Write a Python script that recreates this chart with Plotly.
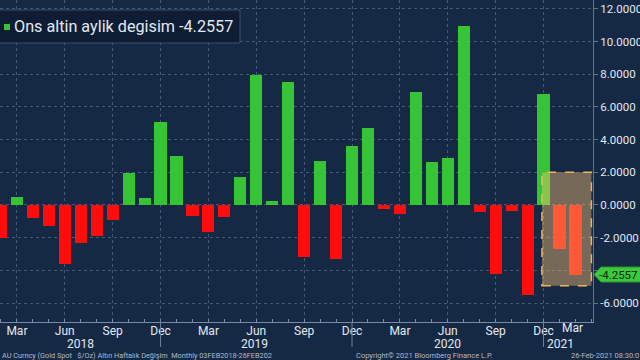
import plotly.graph_objects as go

# ---------------- data ----------------
months = ["Feb 2018", "Mar 2018", "Apr 2018", "May 2018", "Jun 2018", "Jul 2018",
          "Aug 2018", "Sep 2018", "Oct 2018", "Nov 2018", "Dec 2018",
          "Jan 2019", "Feb 2019", "Mar 2019", "Apr 2019", "May 2019", "Jun 2019",
          "Jul 2019", "Aug 2019", "Sep 2019", "Oct 2019", "Nov 2019", "Dec 2019",
          "Jan 2020", "Feb 2020", "Mar 2020", "Apr 2020", "May 2020", "Jun 2020",
          "Jul 2020", "Aug 2020", "Sep 2020", "Oct 2020", "Nov 2020", "Dec 2020",
          "Jan 2021", "Feb 2021"]
values = [-2.0, 0.5, -0.8, -1.3, -3.6, -2.3, -1.9, -0.9, 1.95, 0.45, 5.08,
          3.0, -0.65, -1.65, -0.75, 1.7, 7.98, 0.26, 7.52, -3.2, 2.7, -3.3, 3.6,
          4.7, -0.25, -0.57, 6.9, 2.6, 2.9, 10.95, -0.43, -4.2, -0.39, -5.48, 6.8,
          -2.7, -4.2557]
tick_months = ["Mar", "Jun", "Sep", "Dec"]
year_labels = ["2018", "2019", "2020", "2021"]
year_label_pos = [5.0, 15.9, 28.0, 35.05]
y_ticks = [-6, -4, -2, 0, 2, 4, 6, 8, 10, 12]
last_value = values[-1]
title_text = "Ons altin aylik degisim %.4f" % last_value
footer_left = "AU Curncy (Gold Spot   $/Oz) Altın Haftalık Değişim  Monthly 03FEB2018-26FEB202"
footer_mid = "Copyright© 2021 Bloomberg Finance L.P."
footer_right = "26-Feb-2021 08:30:0"

# ---------------- styling ----------------
W, H = 640, 360
ML, MR, MT, MB = 0, 47, 0, 38
PW, PH = W - ML - MR, H - MT - MB
BG = "rgb(22,41,68)"
GREEN = "rgb(52,196,52)"
RED = "rgb(255,12,12)"
TXT = "rgb(226,232,240)"
FONT = "Roboto"
YMIN, YMAX = -7.16, 12.54

def px(xp):
    return (xp - ML) / PW

def py(yp):
    return 1 - (yp - MT) / PH

x = list(range(len(months)))
colors = [GREEN if v >= 0 else RED for v in values]

tickvals = [i for i, m in enumerate(months) if m.split()[0] in tick_months]
ticktext = [months[i].split()[0] for i in tickvals]
dec_pos = [i for i, m in enumerate(months) if m.startswith("Dec")]
# the -4 label is hidden behind the last-value tag in the reference
y_ticktext = ["" if abs(v - last_value) < 1 else "%.4f" % v for v in y_ticks]

fig = go.Figure()
fig.add_trace(go.Bar(x=x, y=values, marker=dict(color=colors, line=dict(width=0)),
                     width=0.76, showlegend=False, hoverinfo="skip"))

fig.update_layout(
    width=W, height=H,
    margin=dict(l=ML, r=MR, t=MT, b=MB, pad=0, autoexpand=False),
    paper_bgcolor=BG, plot_bgcolor=BG,
    font=dict(family=FONT, color=TXT, size=12),
    bargap=0,
    showlegend=False,
)
fig.update_xaxes(
    range=[-0.06, 37.1], tickmode="array", tickvals=tickvals, ticktext=ticktext,
    automargin=False, ticklabelstandoff=-2,
    showgrid=True, gridcolor="rgba(110,130,160,0.55)", griddash="dot", gridwidth=1,
    showline=True, linecolor="rgb(120,138,165)", linewidth=1,
    ticks="", ticklen=0, tickfont=dict(size=12, color=TXT, family=FONT),
    zeroline=False,
    minor=dict(ticks="inside", dtick=1, tick0=0, ticklen=3,
               tickcolor="rgb(120,138,165)", showgrid=False),
)
fig.update_yaxes(
    range=[YMIN, YMAX], side="right", tickmode="array", tickvals=y_ticks,
    ticktext=y_ticktext, automargin=False,
    showgrid=True, gridcolor="rgba(110,130,160,0.55)",
    griddash="dot", gridwidth=1, zeroline=False,
    showline=True, linecolor="rgb(95,125,100)", linewidth=1,
    ticks="outside", ticklen=4, tickcolor="rgb(95,125,100)",
    tickfont=dict(size=11.5, color=TXT, family=FONT),
)

shapes = []
# year separators below axis
for d in dec_pos:
    shapes.append(dict(type="line", xref="x", yref="paper", x0=d, x1=d,
                       y0=0, y1=py(347), line=dict(color="rgb(110,128,155)", width=1)))
# highlight box
shapes.append(dict(type="rect", xref="x", yref="y", x0=33.9, x1=37.0, y0=-4.94, y1=2.0,
                   fillcolor="rgba(255,195,115,0.42)",
                   line=dict(color="rgb(240,180,90)", width=1.5, dash="dash"),
                   layer="above"))
# legend box
shapes.append(dict(type="rect", xref="paper", yref="paper", x0=px(-2), x1=px(240),
                   y0=py(43), y1=py(10), fillcolor="rgb(14,29,52)",
                   line=dict(color="rgb(60,78,102)", width=1), layer="above"))
shapes.append(dict(type="rect", xref="paper", yref="paper", x0=px(4), x1=px(10),
                   y0=py(30), y1=py(24), fillcolor=GREEN, line=dict(width=0),
                   layer="above"))
# last value tag (arrow)
hh = 7.5 / (PH / (YMAX - YMIN))
xa, xb, xc = px(594), px(601), px(641)
shapes.append(dict(type="path", xref="paper", yref="y",
                   path=f"M {xa},{last_value} L {xb},{last_value+hh} L {xc},{last_value+hh} "
                        f"L {xc},{last_value-hh} L {xb},{last_value-hh} Z",
                   fillcolor="rgb(62,200,62)", line=dict(color="rgb(40,150,40)", width=1),
                   layer="above"))
fig.update_layout(shapes=shapes)

ann = []
ann.append(dict(text=title_text, xref="paper", yref="paper", x=px(12), y=py(27),
                xanchor="left", yanchor="middle", showarrow=False,
                font=dict(size=16.2, color=TXT, family=FONT)))
ann.append(dict(text="%.4f" % last_value, xref="paper", yref="y", x=px(597), y=last_value,
                xanchor="left", yanchor="middle", showarrow=False,
                font=dict(size=11.5, color="rgb(10,40,10)", family=FONT)))
ann.append(dict(text="Mar", xref="x", yref="paper", x=35.8, y=py(328.5),
                xanchor="center", yanchor="middle", showarrow=False,
                font=dict(size=12, color=TXT, family=FONT)))
for lab, pos in zip(year_labels, year_label_pos):
    ann.append(dict(text=lab, xref="x", yref="paper", x=pos, y=py(343.5),
                    xanchor="center", yanchor="middle", showarrow=False,
                    font=dict(size=12, color=TXT, family=FONT)))
ann.append(dict(text=footer_left, xref="paper", yref="paper", x=px(0), y=py(355),
                xanchor="left", yanchor="middle", showarrow=False,
                font=dict(size=7.3, color="rgb(175,185,200)", family=FONT)))
ann.append(dict(text=footer_mid, xref="paper", yref="paper", x=px(354), y=py(355),
                xanchor="left", yanchor="middle", showarrow=False,
                font=dict(size=7.5, color="rgb(175,185,200)", family=FONT)))
ann.append(dict(text=footer_right, xref="paper", yref="paper", x=px(641), y=py(355),
                xanchor="right", yanchor="middle", showarrow=False,
                font=dict(size=7.5, color="rgb(175,185,200)", family=FONT)))
fig.update_layout(annotations=ann)

fig.write_html("out.html", config={"displayModeBar": False},
               post_script="document.body.style.margin='0';document.body.style.overflow='hidden';")
